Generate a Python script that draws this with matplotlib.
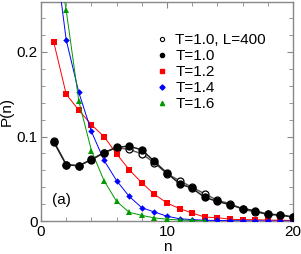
#!/usr/bin/env python3
"""Cluster size distribution P(n) for several temperatures."""

import matplotlib
matplotlib.use("Agg")
import matplotlib.pyplot as plt
from matplotlib.lines import Line2D
from matplotlib.ticker import MultipleLocator

plt.rcParams["font.family"] = ["Liberation Sans", "DejaVu Sans"]

# ---------------------------------------------------------------------------
# Data
# ---------------------------------------------------------------------------

n = list(range(1, 21))

p_t10_l400 = [0.095, 0.067, 0.0655, 0.073, 0.081, 0.087, 0.0847, 0.0796, 0.069, 0.056,
              0.048, 0.040, 0.0325, 0.0247, 0.0208, 0.0142, 0.0110, 0.0082, 0.007, 0.005]
p_t10 = [0.094, 0.0667, 0.0655, 0.0726, 0.0808, 0.0874, 0.0886, 0.0843, 0.0706, 0.0568,
         0.0443, 0.039, 0.0282, 0.0235, 0.0196, 0.015, 0.0125, 0.0082, 0.0078, 0.005]
p_t12 = [0.212, 0.150, 0.131, 0.114, 0.100, 0.0796, 0.0608, 0.0455, 0.0318, 0.0216,
         0.015, 0.0098, 0.005, 0.0043, 0.0024, 0.002, 0.0018, 0.0015, 0.0012, 0.001]
p_t14 = [0.33, 0.214, 0.152, 0.106, 0.072, 0.048, 0.0294, 0.016, 0.011, 0.006,
         0.003, 0.002, 0.0012, 0.001, 0.0008, 0.0006, 0.0005, 0.0004, 0.0003, 0.0003]
n_t16 = list(range(1, 14))
p_t16 = [0.34, 0.249, 0.142, 0.0835, 0.048, 0.0235, 0.0106, 0.007, 0.004, 0.0025,
         0.0015, 0.001, 0.0008]

labels = ["T=1.0, L=400", "T=1.0", "T=1.2", "T=1.4", "T=1.6"]
GREEN = "#009900"
FS = 11


def main():
    fig = plt.figure(figsize=(3.01, 2.54), dpi=100)
    ax = fig.add_axes([0.1362, 0.1287, 0.8372, 0.8646])

    ax.plot(n, p_t10_l400, "-", color="#555555", linewidth=1.0, marker="o",
            markersize=5, markerfacecolor="white", markeredgecolor="black",
            markeredgewidth=0.9, zorder=3)
    ax.plot(n, p_t10, "-", color="#222222", linewidth=1.1, marker="o",
            markersize=5, markerfacecolor="black", markeredgecolor="black", zorder=4)
    ax.plot(n, p_t12, "-", color="red", linewidth=0.7, marker="s",
            markersize=3.8, markeredgewidth=0, zorder=3)
    ax.plot(n, p_t14, "-", color="blue", linewidth=0.7, marker="D",
            markersize=3.3, markeredgewidth=0, zorder=3)
    ax.plot(n_t16, p_t16, "-", color=GREEN, linewidth=0.7, marker="^",
            markersize=4, markeredgewidth=0, zorder=3)

    ax.set_xlim(0, 20)
    ax.set_ylim(0, 0.259)
    ax.xaxis.set_minor_locator(MultipleLocator(2))
    ax.yaxis.set_minor_locator(MultipleLocator(0.02))
    ax.set_xticks([0, 10, 20])
    ax.set_xticklabels(["0", "10", "20"])
    ax.set_yticks([0, 0.1, 0.2])
    ax.set_yticklabels(["0", "0.1", "0.2"])
    ax.tick_params(which="both", direction="in", top=True, right=True,
                   color="#888888", labelsize=FS)
    ax.tick_params(axis="x", pad=2.5)
    ax.tick_params(axis="y", pad=2.5)
    ax.tick_params(which="major", length=4)
    ax.tick_params(which="minor", length=3)
    for s in ax.spines.values():
        s.set_color("#888888")
        s.set_linewidth(1.0)

    ax.set_xlabel("n", fontsize=FS, labelpad=1)
    ax.set_ylabel("P(n)", fontsize=FS, labelpad=1.8)
    ax.text(0.083, 0.095, "(a)", transform=ax.transAxes, fontsize=FS,
            ha="center", va="center")

    handles = [
        Line2D([], [], linestyle="none", marker="o", markersize=3,
               markerfacecolor="white", markeredgecolor="black", markeredgewidth=0.8),
        Line2D([], [], linestyle="none", marker="o", markersize=3, color="black"),
        Line2D([], [], linestyle="none", marker="s", markersize=3, color="red"),
        Line2D([], [], linestyle="none", marker="D", markersize=2.6, color="blue"),
        Line2D([], [], linestyle="none", marker="^", markersize=3, color=GREEN),
    ]
    ax.legend(handles, labels, loc="upper left", bbox_to_anchor=(0.463, 0.857),
              frameon=False, fontsize=FS, handlelength=0.6, handletextpad=0.55,
              labelspacing=0.13, borderpad=0, borderaxespad=0)

    fig.savefig("out.png", dpi=100)
    plt.close(fig)


if __name__ == "__main__":
    main()
